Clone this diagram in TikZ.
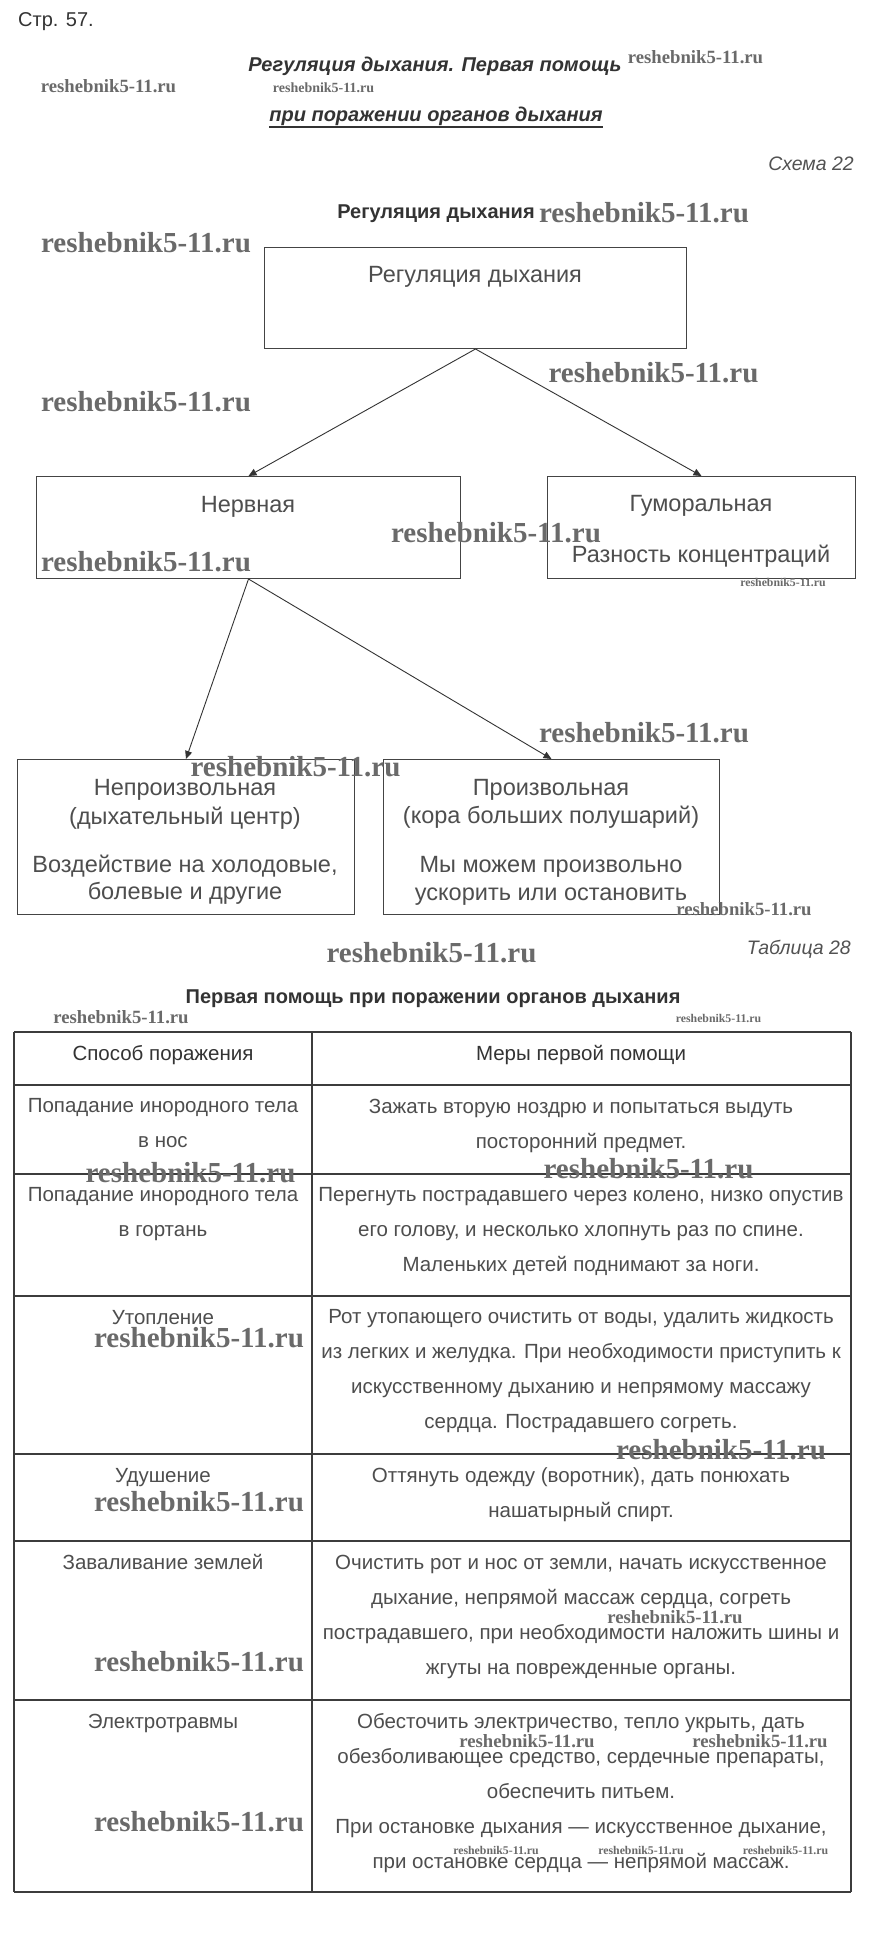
\documentclass[tikz,border=0pt]{standalone}
\usepackage{fontspec}
\setmainfont{Liberation Sans}
\newfontfamily\wmfont{Liberation Serif}
\usetikzlibrary{arrows.meta}
\definecolor{ink}{HTML}{333333}
\definecolor{boxline}{HTML}{444444}
\definecolor{lighttext}{HTML}{4E4E4E}
\definecolor{wmcol}{HTML}{6A6A6A}
\definecolor{tabline}{HTML}{3C3C3C}
\begin{document}
\begin{tikzpicture}[x=1pt,y=-1pt,
  dtext/.style={font=\fontsize{23.5}{27}\selectfont, text=lighttext, anchor=base, inner sep=0pt},
  ttext/.style={font=\fontsize{20.5}{35}\selectfont, text=lighttext, align=center, anchor=north, inner sep=0pt},
  tone/.style={ttext, execute at begin node=\strut},
  frame/.style={draw=boxline, line width=1pt, inner sep=0pt, anchor=north west},
  conn/.style={draw=ink, line width=0.9pt, -{Triangle[length=8pt,width=7pt]}},
  grid/.style={draw=tabline, line width=2.3pt},
  wmB/.style={font=\wmfont\bfseries\fontsize{29}{30}\selectfont, text=wmcol, inner sep=0pt, anchor=center},
  wmM/.style={font=\wmfont\bfseries\fontsize{18.7}{20}\selectfont, text=wmcol, inner sep=0pt, anchor=center},
  wmT/.style={font=\wmfont\bfseries\fontsize{11.8}{13}\selectfont, text=wmcol, inner sep=0pt, anchor=center},
  wmS/.style={font=\wmfont\bfseries\fontsize{14}{15}\selectfont, text=wmcol, inner sep=0pt, anchor=center}
]
\useasboundingbox[fill=white] (0,0) rectangle (868,1942);

% ---- header
\node[anchor=base west, font=\fontsize{20}{24}\selectfont, text=ink, inner sep=0pt] (page) at (18,27) {Стр. 57.};
\node[anchor=base, font=\bfseries\itshape\fontsize{20}{24}\selectfont, text=ink, inner sep=0pt] (title1) at (435,72) {Регуляция дыхания. Первая помощь};
\node[anchor=base, font=\bfseries\itshape\fontsize{20}{24}\selectfont, text=ink, inner sep=0pt] (title2) at (436,122) {при поражении органов дыхания};
\draw[ink, line width=2.8pt] ([yshift=-5pt]title2.base west) -- ([yshift=-5pt]title2.base east);
\node[anchor=base east, font=\itshape\fontsize{19.5}{22}\selectfont, text=ink!85, inner sep=0pt] (schema) at (854,171) {Схема 22};

% ---- diagram
\node[anchor=base, font=\bfseries\fontsize{20}{22}\selectfont, text=ink, inner sep=0pt] (dhead) at (436,219) {Регуляция дыхания};

\node[frame, minimum width=422pt, minimum height=101pt] (reg) at (264,247) {};
\node[frame, minimum width=424pt, minimum height=102pt] (nerv) at (36,476) {};
\node[frame, minimum width=308pt, minimum height=102pt] (hum) at (547,476) {};
\node[frame, minimum width=337pt, minimum height=155pt] (invol) at (17,759) {};
\node[frame, minimum width=336pt, minimum height=155pt] (vol) at (383,759) {};

\node[dtext] (regT) at (475,283) {Регуляция дыхания};
\node[dtext] (nervT) at (248,512) {Нервная};
\node[dtext] (humT1) at (701,511) {Гуморальная};
\node[dtext] (humT2) at (701,562) {Разность концентраций};
\node[dtext] (invT1) at (185,795) {Непроизвольная};
\node[dtext] (invT2) at (185,824) {(дыхательный центр)};
\node[dtext] (invT3) at (185,872) {Воздействие на холодовые,};
\node[dtext] (invT4) at (185,899) {болевые и другие};
\node[dtext] (volT1) at (551,795) {Произвольная};
\node[dtext] (volT2) at (551,823) {(кора больших полушарий)};
\node[dtext] (volT3) at (551,872) {Мы можем произвольно};
\node[dtext] (volT4) at (551,900) {ускорить или остановить};

\draw[conn] (reg.south) -- (nerv.north);
\draw[conn] (reg.south) -- (hum.north);
\draw[conn] (nerv.south) -- (invol.north);
\draw[conn] (nerv.south) -- (vol.north);

% ---- table
\node[anchor=base east, font=\itshape\fontsize{19.5}{22}\selectfont, text=ink!85, inner sep=0pt] (tabno) at (851,954) {Таблица 28};
\node[anchor=base, font=\bfseries\fontsize{20}{22}\selectfont, text=ink, inner sep=0pt] (thead) at (433,1003) {Первая помощь при поражении органов дыхания};

\foreach \yy in {1032,1085,1174,1296,1454,1541,1700,1892}
  \draw[grid] (14,\yy) -- (851,\yy);
\draw[grid] (14,1032) -- (14,1892);
\draw[grid] (312,1032) -- (312,1892);
\draw[grid] (851,1032) -- (851,1892);

\node[tone, text=ink] (h1) at (163,1036) {Способ поражения};
\node[tone, text=ink] (h2) at (581,1036) {Меры первой помощи};

\node[ttext] (l1) at (163,1098.5) {Попадание инородного тела\\в нос};
\node[ttext] (r1) at (581,1098.5) {Зажать вторую ноздрю и попытаться выдуть\\посторонний предмет.};
\node[ttext] (l2) at (163,1187.5) {Попадание инородного тела\\в гортань};
\node[ttext] (r2) at (581,1187.5) {Перегнуть пострадавшего через колено, низко опустив\\его голову, и несколько хлопнуть раз по спине.\\Маленьких детей поднимают за ноги.};
\node[tone] (l3) at (163,1300) {Утопление};
\node[ttext] (r3) at (581,1309.5) {Рот утопающего очистить от воды, удалить жидкость\\из легких и желудка. При необходимости приступить к\\искусственному дыханию и непрямому массажу\\сердца. Пострадавшего согреть.};
\node[tone] (l4) at (163,1458) {Удушение};
\node[ttext] (r4) at (581,1467.5) {Оттянуть одежду (воротник), дать понюхать\\нашатырный спирт.};
\node[tone] (l5) at (163,1545) {Заваливание землей};
\node[ttext] (r5) at (581,1554.5) {Очистить рот и нос от земли, начать искусственное\\дыхание, непрямой массаж сердца, согреть\\пострадавшего, при необходимости наложить шины и\\жгуты на поврежденные органы.};
\node[tone] (l6) at (163,1704) {Электротравмы};
\node[ttext] (r6) at (581,1713.5) {Обесточить электричество, тепло укрыть, дать\\обезболивающее средство, сердечные препараты,\\обеспечить питьем.\\При остановке дыхания — искусственное дыхание,\\при остановке сердца — непрямой массаж.};

% ---- watermarks
\node[wmM] (wm1) at (695.5,57) {reshebnik5-11.ru};
\node[wmM] (wm2) at (108.5,86) {reshebnik5-11.ru};
\node[wmS] (wm3) at (323.5,88) {reshebnik5-11.ru};
\node[wmB] (wm4) at (644,213) {reshebnik5-11.ru};
\node[wmB] (wm5) at (146,243) {reshebnik5-11.ru};
\node[wmB] (wm6) at (653.5,373) {reshebnik5-11.ru};
\node[wmB] (wm7) at (146,402) {reshebnik5-11.ru};
\node[wmB] (wm8) at (496,533) {reshebnik5-11.ru};
\node[wmB] (wm9) at (146,562) {reshebnik5-11.ru};
\node[wmT] (wm10) at (783,582) {reshebnik5-11.ru};
\node[wmB] (wm11) at (644,733) {reshebnik5-11.ru};
\node[wmB] (wm12) at (295.5,767) {reshebnik5-11.ru};
\node[wmM] (wm13) at (744,909) {reshebnik5-11.ru};
\node[wmB] (wm14) at (431.5,953) {reshebnik5-11.ru};
\node[wmM] (wm15) at (121,1017) {reshebnik5-11.ru};
\node[wmT] (wm16) at (718.5,1018) {reshebnik5-11.ru};
\node[wmB] (wm17) at (190.5,1173) {reshebnik5-11.ru};
\node[wmB] (wm18) at (648.5,1169) {reshebnik5-11.ru};
\node[wmB] (wm19) at (199,1338) {reshebnik5-11.ru};
\node[wmB] (wm20) at (721,1450) {reshebnik5-11.ru};
\node[wmB] (wm21) at (199,1502) {reshebnik5-11.ru};
\node[wmM] (wm22) at (675,1617) {reshebnik5-11.ru};
\node[wmB] (wm23) at (199,1662) {reshebnik5-11.ru};
\node[wmM] (wm24) at (527,1741) {reshebnik5-11.ru};
\node[wmM] (wm25) at (760,1741) {reshebnik5-11.ru};
\node[wmB] (wm26) at (199,1822) {reshebnik5-11.ru};
\node[wmT] (wm27) at (496,1850) {reshebnik5-11.ru};
\node[wmT] (wm28) at (641,1850) {reshebnik5-11.ru};
\node[wmT] (wm29) at (785.5,1850) {reshebnik5-11.ru};
\end{tikzpicture}
\end{document}
